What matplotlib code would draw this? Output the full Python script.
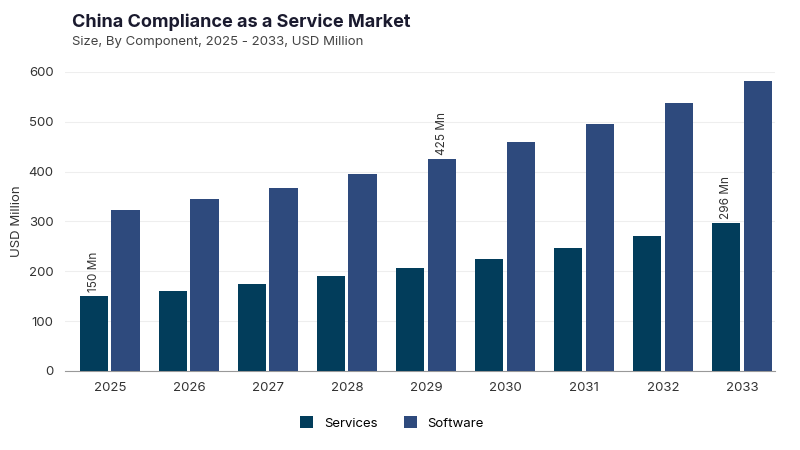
import matplotlib
matplotlib.use("Agg")
import matplotlib.pyplot as plt
import numpy as np

years = ["2025","2026","2027","2028","2029","2030","2031","2032","2033"]
services = [150,161,175,190,206,225,246,270,296]
software = [322,344,368,395,425,459,496,537,581]
annot = [("Services",0,"150 Mn"),("Software",4,"425 Mn"),("Services",8,"296 Mn")]

plt.rcParams['font.family'] = ['Inter','DejaVu Sans']
fig = plt.figure(figsize=(8,4.5), dpi=100)
ax = fig.add_axes([0.081,0.176,0.888,0.664])
x = np.arange(len(years))
w = 0.36
c1, c2 = "#023d5b", "#2e4a7d"
ax.bar(x-0.2, services, w, color=c1, label="Services", zorder=3)
ax.bar(x+0.2, software, w, color=c2, label="Software", zorder=3)
data = {"Services":services,"Software":software}
for s,i,t in annot:
    off = -0.2 if s=="Services" else 0.2
    ax.text(x[i]+off, data[s][i]+8, t, rotation=90, ha="center", va="bottom", fontsize=8.5, color="#333333")
ax.set_xlim(-0.57,8.42)
ax.set_ylim(0,600)
ax.set_yticks(range(0,601,100))
ax.set_xticks(x)
ax.set_xticklabels(years)
ax.tick_params(length=0, labelsize=9.5, colors="#333333", pad=8)
ax.grid(axis="y", color="#eeeeee", zorder=0)
for sp in ["top","right","left"]:
    ax.spines[sp].set_visible(False)
ax.spines["bottom"].set_color("#999999")
ax.set_ylabel("USD Million", fontsize=9.5, color="#333333")
fig.text(0.09,0.94,"China Compliance as a Service Market", fontsize=13, fontweight="bold", color="#1a1a2e")
fig.text(0.09,0.9,"Size, By Component, 2025 - 2033, USD Million", fontsize=9.5, color="#444444")
fig.legend(loc="center", bbox_to_anchor=(0.49,0.06), ncol=2, frameon=False, fontsize=9.5, handlelength=1, handleheight=1, columnspacing=2)
fig.savefig("out.png", dpi=100)
